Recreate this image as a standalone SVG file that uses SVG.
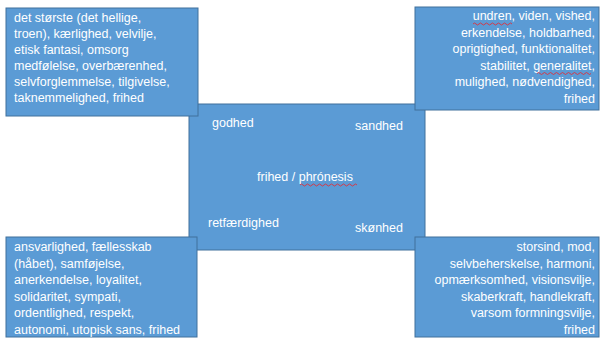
<svg xmlns="http://www.w3.org/2000/svg" width="601" height="341" viewBox="0 0 601 341">
<defs>
<style>
.box{fill:#5b9bd5;stroke:#41719c;stroke-width:1}
.t{font-family:"Liberation Sans",Arial,sans-serif;font-size:12.5px;fill:#ffffff}
.r{text-anchor:end}
.sq{fill:none;stroke:#e0303a;stroke-width:0.9}
</style>
</defs>
<rect x="0" y="0" width="601" height="341" fill="#ffffff"/>
<g id="center">
<rect class="box" x="189" y="104" width="236" height="146"/>
<text class="t" x="212" y="127">godhed</text>
<text class="t" x="355" y="130">sandhed</text>
<text class="t" x="257" y="181">frihed / phrónesis</text>
<text class="t" x="208" y="227">retfærdighed</text>
<text class="t" x="355" y="232">skønhed</text>
<path class="sq" d="M300 185 q1.5 -2 3 0 t3 0 t3 0 t3 0 t3 0 t3 0 t3 0 t3 0 t3 0 t3 0 t3 0 t3 0 t3 0 t3 0 t3 0 t3 0 t3 0 t3 0 t3 0"/>
</g>
<g id="top-left">
<rect class="box" x="6" y="8" width="192" height="108"/>
<text class="t" x="14" y="22">det største (det hellige,</text>
<text class="t" x="14" y="38">troen), kærlighed, velvilje,</text>
<text class="t" x="14" y="54">etisk fantasi, omsorg</text>
<text class="t" x="14" y="70">medfølelse, overbærenhed,</text>
<text class="t" x="14" y="86">selvforglemmelse, tilgivelse,</text>
<text class="t" x="14" y="102">taknemmelighed, frihed</text>
</g>
<g id="top-right">
<rect class="box" x="415" y="7" width="184" height="103"/>
<text class="t r" x="595" y="20">undren, viden, vished,</text>
<text class="t r" x="595" y="36.5">erkendelse, holdbarhed,</text>
<text class="t r" x="595" y="53">oprigtighed, funktionalitet,</text>
<text class="t r" x="595" y="69.5">stabilitet, generalitet,</text>
<text class="t r" x="595" y="86">mulighed, nødvendighed,</text>
<text class="t r" x="595" y="102.5">frihed</text>
<path class="sq" d="M473 24 q1.5 -2 3 0 t3 0 t3 0 t3 0 t3 0 t3 0 t3 0 t3 0 t3 0 t3 0 t3 0 t3 0 t3 0"/>
<path class="sq" d="M537 73.5 q1.5 -2 3 0 t3 0 t3 0 t3 0 t3 0 t3 0 t3 0 t3 0 t3 0 t3 0 t3 0 t3 0 t3 0 t3 0 t3 0 t3 0 t3 0 t3 0"/>
</g>
<g id="bottom-left">
<rect class="box" x="6" y="237" width="191" height="100"/>
<text class="t" x="14" y="251">ansvarlighed, fællesskab</text>
<text class="t" x="14" y="267.5">(håbet), samføjelse,</text>
<text class="t" x="14" y="284">anerkendelse, loyalitet,</text>
<text class="t" x="14" y="300.5">solidaritet, sympati,</text>
<text class="t" x="14" y="317">ordentlighed, respekt,</text>
<text class="t" x="14" y="333.5">autonomi, utopisk sans, frihed</text>
</g>
<g id="bottom-right">
<rect class="box" x="415" y="237" width="184" height="100"/>
<text class="t r" x="595" y="251">storsind, mod,</text>
<text class="t r" x="595" y="267.5">selvbeherskelse, harmoni,</text>
<text class="t r" x="595" y="284">opmærksomhed, visionsvilje,</text>
<text class="t r" x="595" y="300.5">skaberkraft, handlekraft,</text>
<text class="t r" x="595" y="317">varsom formningsvilje,</text>
<text class="t r" x="595" y="333.5">frihed</text>
</g>
</svg>
